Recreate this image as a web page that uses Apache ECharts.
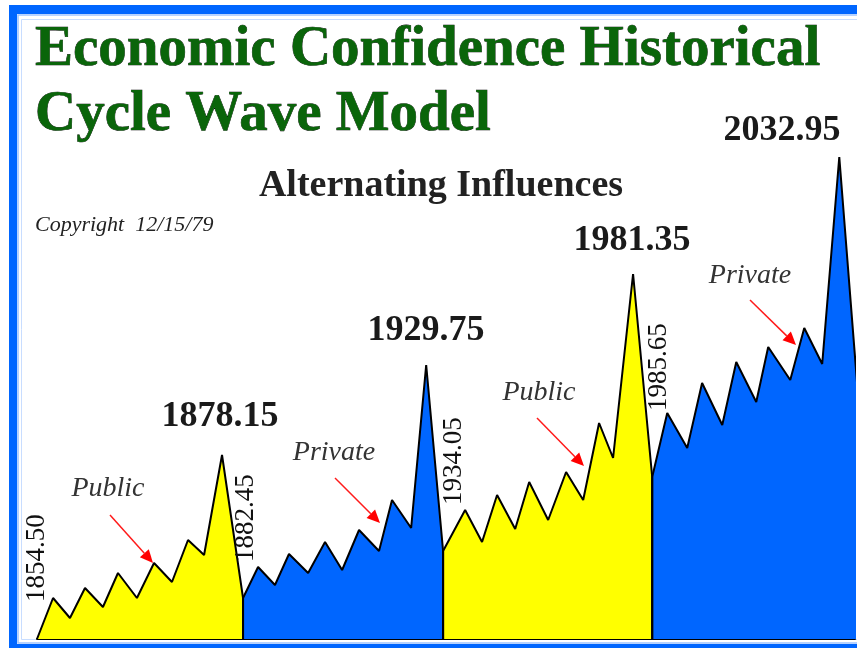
<!DOCTYPE html>
<html>
<head>
<meta charset="utf-8">
<title>Economic Confidence Historical Cycle Wave Model</title>
<script src="https://cdn.jsdelivr.net/npm/echarts@6/dist/echarts.min.js"></script>
<style>
html, body { margin: 0; padding: 0; background: #fff; }
#main { width: 857px; height: 648px; }
</style>
</head>
<body>
<div id="main"></div>
<script>
// turning points of the wave (roughly one every half cycle)
// x in half-cycle steps, y in arbitrary confidence units
var waveX = [
    0, 0.94, 1.93, 2.81, 3.86, 4.74, 5.85, 6.85, 7.9, 8.84, 9.78, 10.83, 12.06,
    12.94, 13.93, 14.75, 15.87, 16.86, 17.86, 18.85, 20.02, 20.78, 21.9, 22.78, 23.77,
    25.06, 26.05, 26.93, 27.99, 28.81, 29.92, 30.97, 31.97, 32.9, 33.72, 34.89, 36.01,
    36.89, 38.06, 38.93, 40.11, 40.93, 42.1, 42.8, 44.09, 44.91, 45.96, 46.96, 48.01
];
var waveValues = [
    0, 41, 21, 51, 32, 66, 41, 76, 57, 99, 84, 184, 41,
    72, 54, 85, 66, 97, 69, 109, 88, 139, 111, 274, 88,
    129, 97, 144, 110, 157, 119, 167, 139, 216, 181, 365, 162,
    226, 191, 256, 214, 277, 237, 292, 259, 311, 275, 482, 254
];
var segmentStart = [0, 12, 24, 36];
var segmentEnd = [12, 24, 36, 48];
var segmentColors = ['#ffff00', '#0066ff', '#ffff00', '#0066ff'];

var peakLabels = ['1878.15', '1929.75', '1981.35', '2032.95'];
var turnLabels = ['1854.50', '1882.45', '1934.05', '1985.65'];
var influenceLabels = ['Public', 'Private', 'Public', 'Private'];

// where the texts and arrows sit on the page
var peakPos = [[220, 417], [426, 331], [632, 241], [782, 131]];
var turnPos = [[37, 558], [246, 518], [454, 461], [659, 367]];
var influencePos = [[108, 489], [334, 453], [539, 393], [750, 276]];
var arrowPos = [[110, 515, 153, 563], [335, 478, 380, 523], [537, 418, 584, 466], [750, 300, 796, 345]];

function segmentData(s, e) {
    var d = [[waveX[s], 0]];
    for (var i = s; i <= e; i++) {
        d.push([waveX[i], waveValues[i]]);
    }
    d.push([waveX[e], 0]);
    return d;
}

function txt(x, y, text, font, fill, extra) {
    var el = {
        type: 'text', x: x, y: y, z: 10, silent: true,
        style: {
            text: text, font: font, fill: fill,
            align: 'center', verticalAlign: 'middle',
            textAlign: 'center', textVerticalAlign: 'middle'
        }
    };
    if (extra) {
        for (var k in extra) el[k] = extra[k];
    }
    return el;
}

function arrow(a) {
    var x1 = a[0], y1 = a[1], x2 = a[2], y2 = a[3];
    var ang = Math.atan2(y2 - y1, x2 - x1);
    var len = 13, half = 6;
    var bx = x2 - len * Math.cos(ang), by = y2 - len * Math.sin(ang);
    var px = -Math.sin(ang) * half, py = Math.cos(ang) * half;
    return [
        { type: 'line', z: 10, silent: true, shape: { x1: x1, y1: y1, x2: bx, y2: by }, style: { stroke: '#ff1a1a', lineWidth: 1.5 } },
        { type: 'polygon', z: 10, silent: true, shape: { points: [[x2, y2], [bx + px, by + py], [bx - px, by - py]] }, style: { fill: '#ff0000' } }
    ];
}

var graphics = [
    // frame
    { type: 'rect', z: -10, silent: true, shape: { x: 9, y: 5, width: 900, height: 700 }, style: { fill: '#0066ff' } },
    { type: 'rect', z: -9, silent: true, shape: { x: 17, y: 14, width: 900, height: 630 }, style: { fill: '#fff' } },
    { type: 'rect', z: -8, silent: true, shape: { x: 18, y: 15, width: 900, height: 628 }, style: { fill: null, stroke: '#9ec4ff', lineWidth: 1.5 } },
    { type: 'rect', z: -8, silent: true, shape: { x: 21.5, y: 19.5, width: 900, height: 620 }, style: { fill: null, stroke: '#c8ddff', lineWidth: 1 } }
];

var titleFont = 'bold 57px "Liberation Serif"';
graphics.push({
    type: 'text', x: 35, y: 50, z: 10, silent: true,
    style: { text: 'Economic Confidence Historical', font: titleFont, fill: '#0a650a', stroke: '#000', lineWidth: 0.6,
        align: 'left', verticalAlign: 'middle', textAlign: 'left', textVerticalAlign: 'middle' }
});
graphics.push({
    type: 'text', x: 35, y: 115, z: 10, silent: true,
    style: { text: 'Cycle Wave Model', font: titleFont, fill: '#0a650a', stroke: '#000', lineWidth: 0.6,
        align: 'left', verticalAlign: 'middle', textAlign: 'left', textVerticalAlign: 'middle' }
});
graphics.push(txt(441, 186, 'Alternating Influences', 'bold 38px "Liberation Serif"', '#222'));
graphics.push({
    type: 'text', x: 35, y: 225, z: 10, silent: true,
    style: { text: 'Copyright  12/15/79', font: 'italic 22px "Liberation Serif"', fill: '#222',
        align: 'left', verticalAlign: 'middle', textAlign: 'left', textVerticalAlign: 'middle' }
});

for (var i = 0; i < peakLabels.length; i++) {
    graphics.push(txt(peakPos[i][0], peakPos[i][1], peakLabels[i], 'bold 36px "Liberation Serif"', '#1a1a1a'));
    graphics.push(txt(turnPos[i][0], turnPos[i][1], turnLabels[i], '27px "Liberation Serif"', '#111', { rotation: Math.PI / 2 }));
    graphics.push(txt(influencePos[i][0], influencePos[i][1], influenceLabels[i], 'italic 28px "Liberation Serif"', '#333'));
    graphics = graphics.concat(arrow(arrowPos[i]));
}

var series = [];
for (var j = 0; j < segmentStart.length; j++) {
    series.push({
        type: 'line',
        data: segmentData(segmentStart[j], segmentEnd[j]),
        showSymbol: false,
        symbol: 'none',
        silent: true,
        lineStyle: { color: '#000', width: 2 },
        areaStyle: { color: segmentColors[j], opacity: 1 }
    });
}

var myChart = echarts.init(document.getElementById('main'));
myChart.setOption({
    animation: false,
    grid: { left: 37, right: 2, top: 139, bottom: 9 },
    xAxis: {
        type: 'value',
        min: 0,
        max: 47.88,
        axisLabel: { show: false },
        axisTick: { show: false },
        splitLine: { show: false },
        axisLine: { lineStyle: { color: '#000', width: 2 } }
    },
    yAxis: {
        type: 'value',
        min: 0,
        max: 500,
        show: false
    },
    graphic: graphics,
    series: series
});
</script>
</body>
</html>
